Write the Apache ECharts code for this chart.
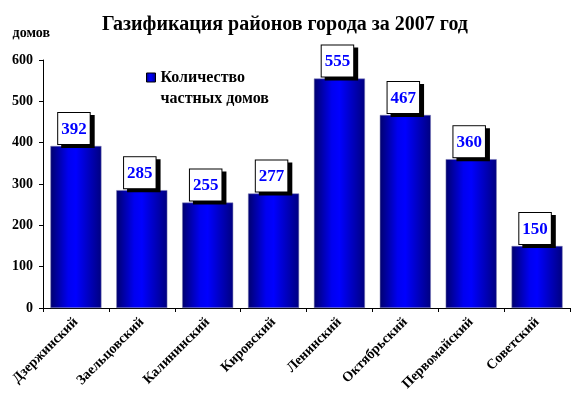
<!DOCTYPE html>
<html>
<head>
<meta charset="utf-8">
<script src="https://cdn.jsdelivr.net/npm/echarts@6/dist/echarts.min.js"></script>
<style>
  html, body { margin: 0; padding: 0; background: #fff; }
  #chart { width: 576px; height: 399px; }
</style>
</head>
<body>
<div id="chart"></div>
<script>
// районы
const districts = ['Дзержинский', 'Заельцовский', 'Калининский', 'Кировский',
  'Ленинский', 'Октябрьский', 'Первомайский', 'Советский'];
// количество частных домов
const houses = [392, 285, 255, 277, 555, 467, 360, 150];
const yTicks = [0, 100, 200, 300, 400, 500, 600];

const serif = '"Liberation Serif", "Times New Roman", serif';
const chart = echarts.init(document.getElementById('chart'));

const barColor = new echarts.graphic.LinearGradient(0, 0, 1, 0, [
  {offset: 0, color: '#00006e'},
  {offset: 0.35, color: '#0000f0'},
  {offset: 0.5, color: '#0000ff'},
  {offset: 1, color: '#000080'}
]);

const option = {
  backgroundColor: '#fff',
  animation: false,
  title: {
    text: 'Газификация районов города за 2007 год',
    left: 280,
    textAlign: 'center',
    top: 10,
    textStyle: {fontFamily: serif, fontSize: 20, fontWeight: 'bold', color: '#000'}
  },
  legend: {
    data: ['Количество частных домов'],
    left: 141,
    top: 41,
    itemWidth: 9,
    itemHeight: 9,
    icon: 'rect',
    // пустая первая строка — чтобы квадрат встал напротив «Количество»
    formatter: () => '\u00a0\nКоличество\nчастных домов',
    textStyle: {
      fontFamily: serif, fontSize: 16, fontWeight: 'bold', color: '#000',
      lineHeight: 21
    },
    itemStyle: {borderColor: '#000', borderWidth: 1}
  },
  grid: {left: 43, right: 6, top: 60, bottom: 91},
  xAxis: {
    type: 'category',
    data: districts,
    axisLine: {lineStyle: {color: '#000', width: 1}},
    axisTick: {show: true, length: 4, lineStyle: {color: '#000'}},
    axisLabel: {
      rotate: 45, margin: 12, interval: 0,
      fontFamily: serif, fontSize: 14, fontWeight: 'bold', color: '#000'
    }
  },
  yAxis: {
    type: 'value',
    min: yTicks[0],
    max: yTicks[yTicks.length - 1],
    interval: 100,
    name: 'домов',
    nameLocation: 'end',
    nameGap: 20,
    nameTextStyle: {fontFamily: serif, fontSize: 14, fontWeight: 'bold', color: '#000', align: 'right', padding: [0, -7, 0, 0]},
    axisLine: {show: true, lineStyle: {color: '#000', width: 1}},
    axisTick: {show: true, length: 4, lineStyle: {color: '#000'}},
    splitLine: {show: false},
    axisLabel: {margin: 10, fontFamily: serif, fontSize: 14, fontWeight: 'bold', color: '#000'}
  },
  series: [{
    name: 'Количество частных домов',
    type: 'bar',
    data: houses,
    barWidth: 51,
    itemStyle: {color: barColor, borderColor: '#7a7ab0', borderWidth: 0.5},
    label: {
      show: true,
      position: 'top',
      distance: 2,
      offset: [-2, 0],
      fontFamily: serif,
      fontSize: 17,
      fontWeight: 'bold',
      color: '#0000ff',
      backgroundColor: '#fff',
      borderColor: '#000',
      borderWidth: 1,
      padding: [8, 3, 6, 3],
      lineHeight: 17,
      shadowColor: '#000',
      shadowOffsetX: 4,
      shadowOffsetY: 3,
      shadowBlur: 0
    }
  }]
};
chart.setOption(option);
</script>
</body>
</html>
